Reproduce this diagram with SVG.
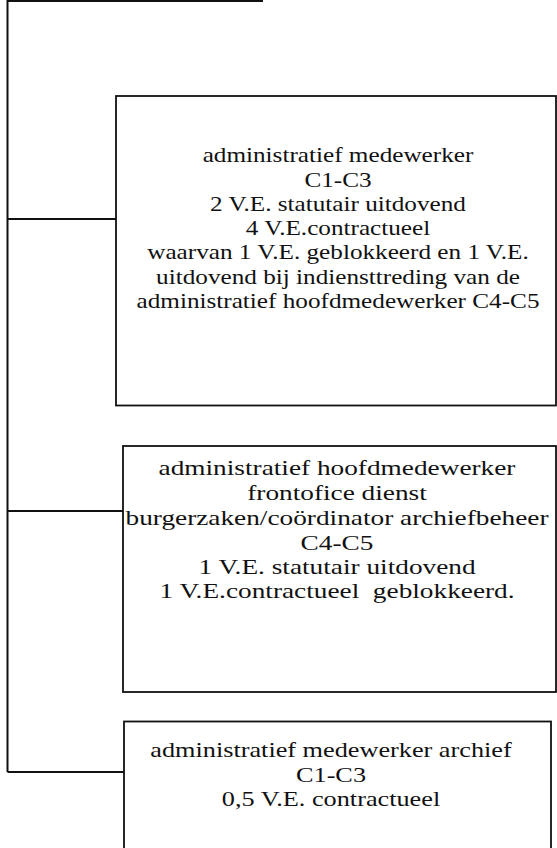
<svg xmlns="http://www.w3.org/2000/svg" width="557" height="848" viewBox="0 0 557 848">
<style>
.box{fill:#fff;stroke:#111;stroke-width:1.8}
.conn{fill:none;stroke:#111;stroke-width:2}
text{font-family:"Liberation Serif","Times New Roman",serif;font-size:21px;fill:#111;text-anchor:middle;white-space:pre}
</style>
<rect width="557" height="848" fill="#fff"/>
<g id="connectors">
<path class="conn" d="M7,1 H263"/>
<path class="conn" d="M7.5,0 V772"/>
<path class="conn" d="M7.5,219 H124"/>
<path class="conn" d="M7.5,511 H123"/>
<path class="conn" d="M7.5,772 H124"/>
</g>
<g id="box1">
<rect class="box" x="116" y="96" width="440" height="309.5"/>
<g transform="translate(338,0) scale(1.2,1)">
<text x="0" y="162">administratief medewerker</text>
<text x="0" y="187">C1-C3</text>
<text x="0" y="211">2 V.E. statutair uitdovend</text>
<text x="0" y="235">4 V.E.contractueel</text>
<text x="0" y="259">waarvan 1 V.E. geblokkeerd en 1 V.E.</text>
<text x="0" y="284">uitdovend bij indiensttreding van de</text>
<text x="0" y="308">administratief hoofdmedewerker C4-C5</text>
</g>
</g>
<g id="box2">
<rect class="box" x="123" y="446" width="433" height="246"/>
<g transform="translate(337,0) scale(1.3,1)">
<text x="0" y="475">administratief hoofdmedewerker</text>
<text x="0" y="500">frontofice dienst</text>
<text x="0" y="525">burgerzaken/coördinator archiefbeheer</text>
<text x="0" y="550">C4-C5</text>
<text x="0" y="574">1 V.E. statutair uitdovend</text>
<text x="0" y="598">1 V.E.contractueel  geblokkeerd.</text>
</g>
</g>
<g id="box3">
<rect class="box" x="124" y="721.5" width="427" height="140"/>
<g transform="translate(331,0) scale(1.25,1)">
<text x="0" y="757">administratief medewerker archief</text>
<text x="0" y="782">C1-C3</text>
<text x="0" y="806">0,5 V.E. contractueel</text>
</g>
</g>
</svg>
